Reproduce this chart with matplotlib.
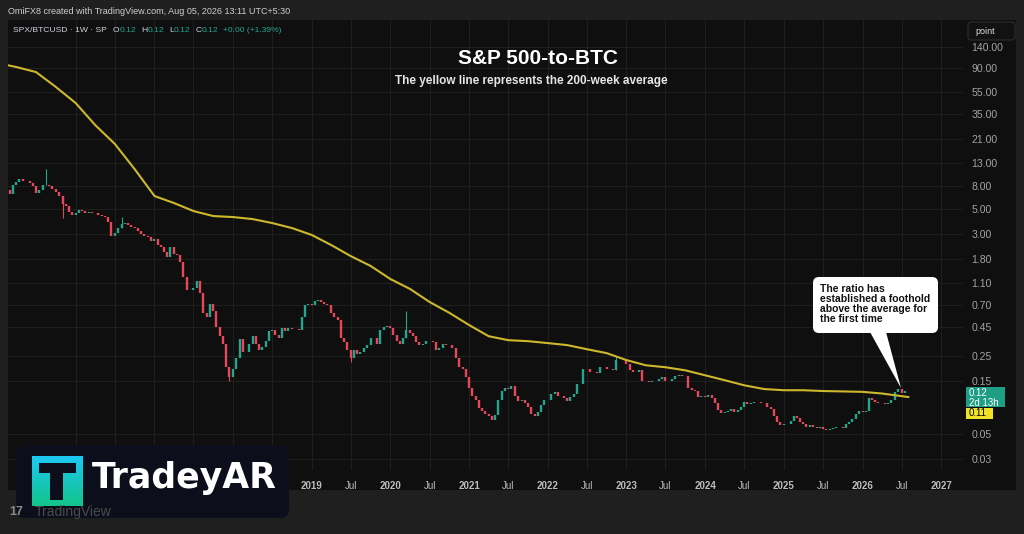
import numpy as np
import pandas as pd
import matplotlib
matplotlib.use('Agg')
import matplotlib.pyplot as plt
from matplotlib.patches import Rectangle, FancyBboxPatch, Polygon
from matplotlib.colors import LinearSegmentedColormap

# SPX/BTCUSD closes, twice a month (1st and 15th)
close_2015 = [7.4, 6.9, 8.2, 8.8, 9.3, 9.0, 8.9, 8.6, 8.0, 7.0, 7.4, 8.3, 8.3, 8.0, 7.6, 7.2, 6.6, 5.6, 5.4, 4.7, 4.5]
close_2016 = [4.6, 4.9, 4.8, 4.6, 4.7, 4.6, 4.6, 4.5, 4.4, 4.3, 3.9, 2.9, 3.1, 3.4, 3.7, 3.8, 3.6, 3.5, 3.4, 3.2, 3.0, 2.9, 2.85, 2.6]
close_2017 = [2.7, 2.4, 2.3, 2.1, 1.9, 2.3, 2.0, 1.95, 1.7, 1.25, 0.95, 0.95, 1.0, 1.15, 0.9, 0.6, 0.55, 0.72, 0.62, 0.45, 0.37, 0.32, 0.2, 0.16]
close_2018 = [0.19, 0.24, 0.35, 0.27, 0.27, 0.32, 0.37, 0.32, 0.28, 0.3, 0.34, 0.41, 0.42, 0.38, 0.36, 0.44, 0.41, 0.44, 0.43, 0.43, 0.42, 0.55, 0.7, 0.72]
close_2019 = [0.7, 0.77, 0.78, 0.75, 0.72, 0.7, 0.6, 0.55, 0.52, 0.36, 0.33, 0.28, 0.24, 0.28, 0.26, 0.27, 0.29, 0.31, 0.36, 0.36, 0.32, 0.42, 0.45, 0.46]
close_2020 = [0.44, 0.38, 0.34, 0.32, 0.36, 0.42, 0.4, 0.37, 0.33, 0.31, 0.32, 0.34, 0.34, 0.33, 0.28, 0.29, 0.32, 0.31, 0.31, 0.29, 0.24, 0.2, 0.19, 0.16]
close_2021 = [0.13, 0.11, 0.1, 0.085, 0.08, 0.075, 0.072, 0.067, 0.074, 0.1, 0.12, 0.128, 0.125, 0.135, 0.11, 0.098, 0.1, 0.095, 0.088, 0.075, 0.073, 0.078, 0.09, 0.1]
close_2022 = [0.1, 0.115, 0.118, 0.11, 0.11, 0.105, 0.098, 0.108, 0.115, 0.14, 0.14, 0.19, 0.19, 0.18, 0.18, 0.175, 0.2, 0.2, 0.19, 0.19, 0.185, 0.23, 0.23, 0.23]
close_2023 = [0.21, 0.185, 0.18, 0.178, 0.185, 0.15, 0.148, 0.145, 0.148, 0.15, 0.155, 0.16, 0.148, 0.15, 0.155, 0.165, 0.168, 0.165, 0.163, 0.13, 0.124, 0.122, 0.108, 0.11]
close_2024 = [0.108, 0.112, 0.105, 0.095, 0.082, 0.077, 0.079, 0.08, 0.083, 0.078, 0.082, 0.088, 0.097, 0.092, 0.095, 0.097, 0.097, 0.095, 0.095, 0.088, 0.084, 0.073, 0.064, 0.06]
close_2025 = [0.062, 0.061, 0.066, 0.073, 0.07, 0.064, 0.062, 0.058, 0.06, 0.058, 0.057, 0.058, 0.056, 0.055, 0.056, 0.057, 0.058, 0.058, 0.057, 0.062, 0.064, 0.068, 0.076, 0.08]
close_2026 = [0.079, 0.08, 0.104, 0.1, 0.096, 0.095, 0.094, 0.093, 0.095, 0.1, 0.118, 0.125, 0.117, 0.12, 0.121]

closes = (close_2015 + close_2016 + close_2017 + close_2018 + close_2019 + close_2020
          + close_2021 + close_2022 + close_2023 + close_2024 + close_2025 + close_2026)
dates = pd.date_range('2015-02-15', '2026-08-01', freq='SMS')

# long wicks that stick out of the bodies
wick_dates = ['2015-08-15', '2015-11-01', '2016-08-01', '2017-12-15', '2019-07-01',
              '2020-03-15', '2022-11-15']
wick_values = [11.5, 4.2, 4.3, 0.15, 0.22, 0.62, 0.25]

# 200-week average (yellow line)
ma_dates = ['2015-02-15', '2015-04-01', '2015-07-01', '2015-10-01',
            '2016-01-01', '2016-04-01', '2016-07-01', '2016-10-01',
            '2017-01-01', '2017-04-01', '2017-07-01', '2017-10-01',
            '2018-01-01', '2018-04-01', '2018-07-01', '2018-10-01',
            '2019-01-01', '2019-04-01', '2019-07-01', '2019-10-01',
            '2020-01-01', '2020-04-01', '2020-07-01', '2020-10-01',
            '2021-01-01', '2021-04-01', '2021-07-01', '2021-10-01',
            '2022-01-01', '2022-04-01', '2022-07-01', '2022-10-01',
            '2023-01-01', '2023-04-01', '2023-07-01', '2023-10-01',
            '2024-01-01', '2024-04-01', '2024-07-01', '2024-10-01',
            '2025-01-01', '2025-04-01', '2025-07-01', '2025-10-01',
            '2026-01-01', '2026-04-01', '2026-07-01', '2026-08-01']
ma_values = [96.2, 92.3, 83.3, 61.4,
             44.2, 28.1, 19.1, 11.4,
             6.57, 5.70, 4.83, 4.36,
             4.27, 4.10, 3.78, 3.41,
             2.96, 2.41, 1.92, 1.57,
             1.20, 0.98, 0.75, 0.60,
             0.467, 0.372, 0.343, 0.336,
             0.323, 0.310, 0.285, 0.263,
             0.228, 0.205, 0.197, 0.185,
             0.167, 0.151, 0.136, 0.126,
             0.123, 0.123, 0.121, 0.120,
             0.119, 0.115, 0.109, 0.107]

y_ticks = [140, 90, 55, 35, 21, 13, 8, 5, 3, 1.8, 1.1, 0.70, 0.45, 0.25, 0.15, 0.05, 0.03]
x_tick_dates = ['2016-01-01', '2016-07-01', '2017-01-01', '2017-07-01', '2018-01-01', '2018-07-01',
                '2019-01-01', '2019-07-01', '2020-01-01', '2020-07-01', '2021-01-01', '2021-07-01',
                '2022-01-01', '2022-07-01', '2023-01-01', '2023-07-01', '2024-01-01', '2024-07-01',
                '2025-01-01', '2025-07-01', '2026-01-01', '2026-07-01', '2027-01-01']
# the first six labels sit under the watermark box in the reference
x_tick_labels = ['', '', '', '', '', '', '2019', 'Jul', '2020', 'Jul',
                 '2021', 'Jul', '2022', 'Jul', '2023', 'Jul', '2024', 'Jul', '2025', 'Jul',
                 '2026', 'Jul', '2027']

UP = '#22a78e'
DOWN = '#e8475a'
MA_COLOR = '#cdb82d'

W, H = 1024, 534
def fx(px):
    return px / W
def fy(py):
    return 1 - py / H

plt.rcParams['font.family'] = ['Liberation Sans', 'DejaVu Sans']

fig = plt.figure(figsize=(W / 100, H / 100), dpi=100, facecolor='#1f1f1f')
fig.patches.append(Rectangle((fx(8), fy(490)), fx(1016) - fx(8), fy(20) - fy(490),
                             transform=fig.transFigure, facecolor='#0f0f0f', zorder=-5))

ax = fig.add_axes([fx(8), fy(470), fx(963) - fx(8), fy(20) - fy(470)])
ax.set_facecolor('none')
ax.set_yscale('log')

# candles
c = np.array(closes)
o = np.concatenate([[c[0]], c[:-1]])
colors = [UP if cc >= oo else DOWN for oo, cc in zip(o, c)]
lo = np.minimum(o, c)
hi = np.maximum(o, c)
ax.vlines(dates, lo, hi, colors=colors, lw=1.7, zorder=3)
for d, v in zip(pd.to_datetime(wick_dates), wick_values):
    i = dates.get_loc(d)
    ax.vlines(d, min(v, lo[i]), max(v, hi[i]), colors=colors[i], lw=0.8, zorder=3)

ax.plot(pd.to_datetime(ma_dates), ma_values, color=MA_COLOR, lw=1.5, zorder=4)

ax.set_xlim(pd.Timestamp('2015-02-21'), pd.Timestamp('2027-04-12'))
ax.set_ylim(0.024, 242)

ax.set_yticks(y_ticks)
ax.set_yticklabels([f'{v:.2f}' for v in y_ticks])
ax.yaxis.set_minor_locator(matplotlib.ticker.NullLocator())
ax.yaxis.tick_right()
ax.tick_params(axis='y', length=0, pad=6, labelsize=7.6, labelcolor='#a3a3a3')

ax.set_xticks(pd.to_datetime(x_tick_dates))
ax.set_xticklabels(x_tick_labels)
ax.tick_params(axis='x', length=0, pad=8, labelsize=7, labelcolor='#bdbdbd')
for lab in ax.get_xticklabels():
    if lab.get_text() != 'Jul':
        lab.set_fontweight('bold')

ax.grid(True, color='#1f1f1f', lw=0.8, zorder=0)
for s in ax.spines.values():
    s.set_visible(False)

# overlay in pixel coordinates for the TradingView decorations
ov = fig.add_axes([0, 0, 1, 1], zorder=5)
ov.patch.set_alpha(0)
ov.axis('off')
ov.set_xlim(0, W)
ov.set_ylim(H, 0)

ov.text(8, 11.5, 'OmiFX8 created with TradingView.com, Aug 05, 2026 13:11 UTC+5:30',
        color='#cfcfcf', fontsize=6.5, va='center')

# symbol legend, pieces placed one after another
legend_parts = [('SPX/BTCUSD · 1W · SP', '#d1d4dc', 6), ('O', '#d1d4dc', 0), ('0.12', UP, 5),
                ('H', '#d1d4dc', 0), ('0.12', UP, 5), ('L', '#d1d4dc', 0), ('0.12', UP, 5),
                ('C', '#d1d4dc', 0), ('0.12', UP, 5), ('+0.00 (+1.39%)', UP, 0)]
renderer = fig.canvas.get_renderer()
x = 13
for t, col, gap in legend_parts:
    txt = ov.text(x, 31, t, color=col, fontsize=6.1, va='center')
    x += txt.get_window_extent(renderer).width + gap

ov.text(538, 58, 'S&P 500-to-BTC', ha='center', va='center', color='white',
        fontsize=15, fontweight='bold')
ov.text(531, 81, 'The yellow line represents the 200-week average', ha='center', va='center',
        color='#e6e6e6', fontsize=8.5, fontweight='bold')

# callout
ov.add_patch(FancyBboxPatch((813, 277), 125, 56, boxstyle='round,pad=0,rounding_size=6',
                            fc='white', ec='none'))
ov.add_patch(Polygon([(870, 332), (886, 332), (901, 388)], closed=True, fc='white', ec='none'))
ov.text(820, 283.5, 'The ratio has\nestablished a foothold\nabove the average for\nthe first time',
        va='top', ha='left', fontsize=7.5, fontweight='bold', color='#111111', linespacing=1.02)

# price scale header and last value labels
ov.add_patch(FancyBboxPatch((968, 22), 47, 18, boxstyle='round,pad=0,rounding_size=3',
                            fc='#121212', ec='#2e2e2e', lw=0.8))
ov.text(975, 31, 'point', color='#e0e0e0', fontsize=6.5, va='center')
ov.add_patch(Rectangle((966, 387), 39, 20, fc='#1e9e84', ec='none'))
ov.text(969, 392.5, f'{closes[-1]:.2f}', color='white', fontsize=7, va='center')
ov.text(969, 402.5, '2d 13h', color='white', fontsize=7, va='center')
ov.add_patch(Rectangle((966, 408), 27, 11, fc='#f0e229', ec='none'))
ov.text(969, 413.5, f'{ma_values[-1]:.2f}', color='black', fontsize=7, va='center')

# watermark logo
ov.add_patch(FancyBboxPatch((16, 445), 273, 73, boxstyle='round,pad=0,rounding_size=9',
                            fc='#0c0f1b', ec='none', zorder=2))
grad = np.linspace(0, 1, 64).reshape(-1, 1)
cmap = LinearSegmentedColormap.from_list('tg', ['#1cc8f4', '#12c48a'])
ov.imshow(grad, cmap=cmap, extent=(32, 83, 506, 456), aspect='auto', zorder=3)
ov.add_patch(Rectangle((39, 463), 37, 10, fc='#0c0f1b', ec='none', zorder=4))
ov.add_patch(Rectangle((50, 473), 13, 27, fc='#0c0f1b', ec='none', zorder=4))
ov.text(92, 478, 'TradeyAR', color='white', fontsize=25, fontweight='bold', va='center',
        ha='left', family='DejaVu Sans', zorder=4)
ov.text(9, 512, '17', color='#8a8a8a', fontsize=9, fontweight='bold', va='center', zorder=5)
ov.text(35, 512, 'TradingView', color='#4a4a4a', fontsize=10, va='center', zorder=5)

ov.set_xlim(0, W)
ov.set_ylim(H, 0)

fig.savefig('out.png', dpi=100, facecolor=fig.get_facecolor())
